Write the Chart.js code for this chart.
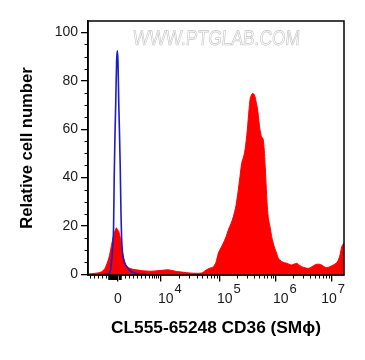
<!DOCTYPE html>
<html>
<head>
<meta charset="utf-8">
<script src="https://cdn.jsdelivr.net/npm/chart.js@4.4.1/dist/chart.umd.min.js"></script>
<style>
html,body{margin:0;padding:0;background:#fff;}
#wrap{width:365px;height:360px;position:relative;}
</style>
</head>
<body>
<div id="wrap"><canvas id="c" width="365" height="360"></canvas></div>
<script>
// ---- data (x in display channels of the biexponential axis, y = relative cell number) ----
const redX = [0,4,8,12,15,17,19,21,22,23.5,25.3,27,28.3,29.5,31.3,32.5,33.7,35,37,39,42,46,50,54,58.7,62,67,72,77,80,84,88.7,93,98.7,104,110,114,117,119,122,125.3,128,130.3,133,135.3,138,140.3,143,145.3,148,150.3,152,153.7,155.5,157,159.3,161,162,163.5,164.7,166,167,168.5,169.7,171,172,173.5,175.3,176.3,177,178,179.3,180.5,182,183.5,185.3,187,188.7,190,192,195,198.7,201,203.7,206,208.7,211,213.7,217,220.3,224,228.7,231,233.7,236,238.7,242,245.3,248,250.3,252,253.7,255,256];
const redY = [0.2,0.3,0.5,0.8,1.5,2.5,4.5,7,8.8,12,15.6,18,19.2,18.6,17,14.5,11.4,8,4.6,3.3,2.5,2,1.8,1.5,1.4,1.3,1.4,1.6,1.8,1.9,1.6,1.2,1.0,0.7,0.5,0.45,0.6,1.5,2.0,2.6,3.2,5,8.7,11,12.9,15.5,18.3,21,23.8,28.5,34.9,40.5,45.9,48.5,51.4,59.7,68,72.1,74.2,74.8,74.4,73.4,70.5,67.9,63,59.7,57,55.5,51,45.9,38,28,23,19.7,16,12.9,10.5,8.7,7,5.9,5,4.6,4.2,3.9,4.2,4.6,3.9,3.2,2.7,2.5,3.2,4.2,4.2,3.9,3.2,2.8,3.2,3.9,4.6,5.9,8,11.4,12.5,12.9];
const blueX = [16,20,22,23.5,24.8,25.6,26.2,27,27.8,28.6,29.3,30,30.8,31.4,32.2,33,33.6,34.5,35.5,37,38.7,41,43.7,47,52,58];
const blueY = [0,0.2,1,5,12,20,40,58,72,88,92.4,88,70,60,45,25,15,9,6.5,4.5,3.2,2,1.1,0.5,0.2,0];
const xMajorPos = [30,73,132,188,243.7];
const xMajorExp = [null,'4','5','6','7'];
const xLinearMinor = [2,6,9.7,13.7,17.7,37,41.3,45.3,49.3,53,57,61,63.7,66,68,70.3];
const xZeroCluster = [21,22.5,24,25.5,27,28.5,31.5,33];
const yTicks = [0,20,40,60,80,100];
const xTitle = 'CL555-65248 CD36 (SM\u03D5)';
const yTitle = 'Relative cell number';
const watermark = 'WWW.PTGLAB.COM';

const FONT = "'Liberation Sans', Arial, sans-serif";

function pts(xs, ys){ return xs.map((x,i)=>({x:x,y:ys[i]})); }

// decade minor ticks (2..9 x 10^n)
const decadeMinor = [];
for (let d=1; d<xMajorPos.length-1; d++){
  const a = xMajorPos[d], b = xMajorPos[d+1];
  for (let k=2;k<=9;k++) decadeMinor.push(a + (b-a)*Math.log10(k));
}

const decoPlugin = {
  id:'deco',
  afterDraw(chart){
    const ctx = chart.ctx, ca = chart.chartArea;
    const xs = chart.scales.x, ys = chart.scales.y;
    ctx.save();
    // frame
    ctx.strokeStyle = '#000'; ctx.lineWidth = 1.5;
    ctx.strokeRect(ca.left, ca.top, ca.right-ca.left, ca.bottom-ca.top);
    // minor ticks x
    ctx.lineWidth = 1;
    ctx.beginPath();
    xLinearMinor.concat(decadeMinor).forEach(v=>{
      const p = Math.round(xs.getPixelForValue(v))+0.5;
      ctx.moveTo(p, ca.bottom); ctx.lineTo(p, ca.bottom+3.5);
    });
    ctx.stroke();
    ctx.lineWidth = 1.5;
    ctx.beginPath();
    xZeroCluster.forEach(v=>{
      const p = xs.getPixelForValue(v);
      ctx.moveTo(p, ca.bottom); ctx.lineTo(p, ca.bottom+5);
    });
    ctx.stroke();
    // minor ticks y
    ctx.lineWidth = 1;
    ctx.beginPath();
    for (let v=5; v<=100; v+=5){
      if (v%20===0) continue;
      const p = Math.round(ys.getPixelForValue(v))+0.5;
      ctx.moveTo(ca.left, p); ctx.lineTo(ca.left-3.5, p);
    }
    ctx.stroke();
    // x labels
    ctx.fillStyle = '#1a1a1a';
    ctx.textBaseline = 'alphabetic';
    xMajorPos.forEach((v,i)=>{
      const p = xs.getPixelForValue(v);
      if (xMajorExp[i]===null){
        ctx.font = '14px '+FONT; ctx.textAlign='center';
        ctx.fillText('0', p, 303);
      } else {
        ctx.font = '14px '+FONT;
        const w1 = ctx.measureText('10').width;
        ctx.font = '13px '+FONT;
        const w2 = ctx.measureText(xMajorExp[i]).width;
        let x0 = p - 3;
        if (x0 + w1 + 1 + w2 > ca.right + 1) x0 = ca.right + 1 - (w1 + 1 + w2);
        ctx.textAlign='left';
        ctx.font = '14px '+FONT;
        ctx.fillText('10', x0, 303);
        ctx.font = '13px '+FONT;
        ctx.fillText(xMajorExp[i], x0 + w1 + 1, 293);
      }
    });
    // watermark
    ctx.font = '21px '+FONT;
    ctx.textAlign = 'center'; ctx.textBaseline = 'middle';
    const ww = ctx.measureText(watermark).width;
    const sx = 167/ww;
    ctx.translate((ca.left+ca.right)/2+0.5, 39.5);
    ctx.transform(sx,0,-0.08,1,0,0);
    ctx.fillStyle = '#ffffff';
    ctx.fillText(watermark,0,0);
    ctx.strokeStyle = '#c4c4c4'; ctx.lineWidth = 0.7;
    ctx.strokeText(watermark,0,0);
    ctx.restore();
  }
};

new Chart(document.getElementById('c'), {
  type:'line',
  data:{
    datasets:[
      {label:'isotype', data:pts(blueX,blueY), borderColor:'#1c1cc8', borderWidth:1.6, fill:false, pointRadius:0, cubicInterpolationMode:'monotone', order:0},
      {label:'CD36', data:pts(redX,redY), borderColor:'#ff0000', backgroundColor:'#ff0000', borderWidth:1, fill:'start', pointRadius:0, cubicInterpolationMode:'monotone', order:1}
    ]
  },
  options:{
    responsive:false, animation:false,
    layout:{padding:{left:0,top:21,right:21,bottom:0}},
    plugins:{legend:{display:false}, tooltip:{enabled:false}},
    scales:{
      x:{
        type:'linear', position:'bottom', min:0, max:256,
        afterBuildTicks(s){ s.ticks = xMajorPos.map(v=>({value:v})); },
        afterFit(s){ s.height = 85; },
        ticks:{display:false},
        grid:{drawOnChartArea:false, drawTicks:true, tickLength:6.5, color:'#000', lineWidth:1.3},
        border:{display:true, color:'#000', width:1.5},
        title:{display:true, text:xTitle, color:'#000', font:{family:FONT, size:17.3, weight:'bold'}, padding:{top:0,bottom:21}}
      },
      y:{
        type:'linear', position:'left', min:-0.25, max:104.7,
        afterBuildTicks(s){ s.ticks = yTicks.map(v=>({value:v})); },
        afterFit(s){ s.width = 88; },
        ticks:{color:'#1a1a1a', font:{family:FONT, size:14}, padding:3},
        grid:{drawOnChartArea:false, drawTicks:true, tickLength:7, color:'#000', lineWidth:1.3},
        border:{display:true, color:'#000', width:1.5},
        title:{display:true, text:yTitle, color:'#000', font:{family:FONT, size:16.6, weight:'bold'}, padding:{top:17.3,bottom:0}}
      }
    }
  },
  plugins:[decoPlugin]
});
</script>
</body>
</html>
